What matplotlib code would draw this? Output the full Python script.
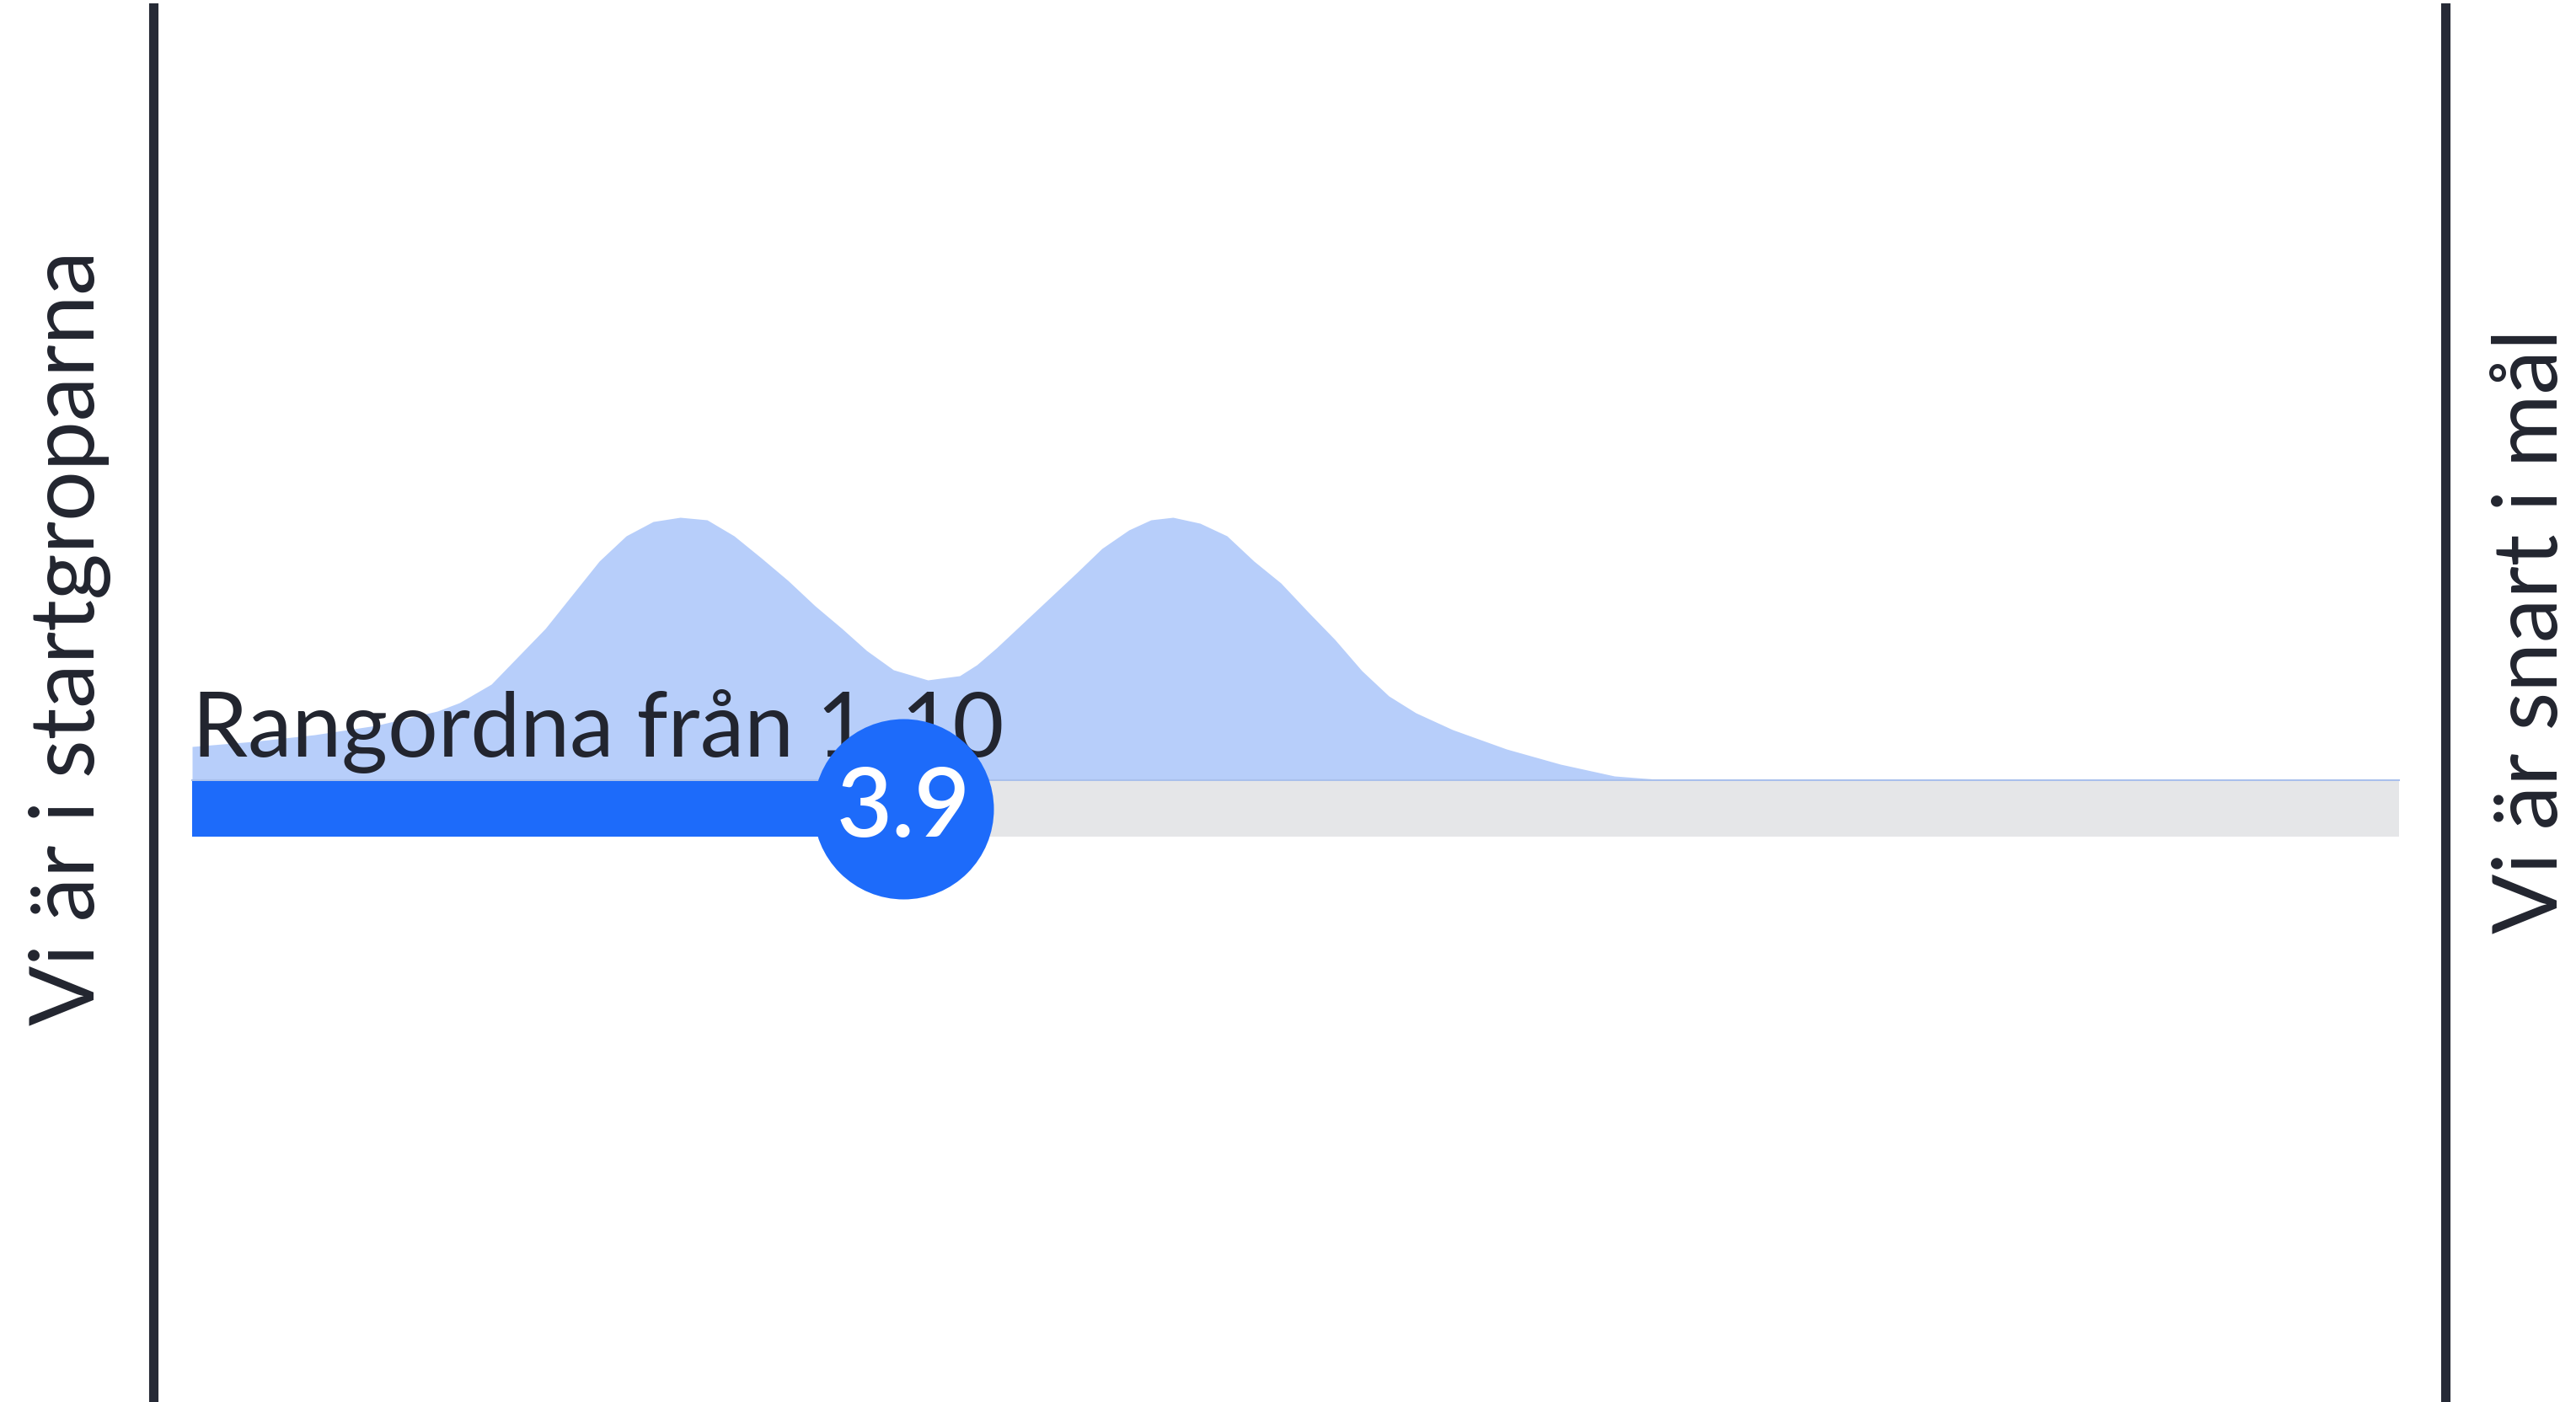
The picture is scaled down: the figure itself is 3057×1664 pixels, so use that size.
import matplotlib
matplotlib.use('Agg')
import matplotlib.pyplot as plt
from matplotlib.lines import Line2D

# rating scale and result
scale_min, scale_max = 1, 10
score = 3.9
score_label = '3.9'

# distribution of answers (density)
dens_x = [1.0, 1.25, 1.5, 1.75, 2.0, 2.09, 2.22, 2.33, 2.44, 2.55, 2.66, 2.77,
          2.88, 2.99, 3.10, 3.21, 3.32, 3.43, 3.54, 3.65, 3.75, 3.86, 4.0,
          4.13, 4.20, 4.28, 4.39, 4.50, 4.61, 4.71, 4.82, 4.91, 5.0, 5.11,
          5.22, 5.33, 5.44, 5.55, 5.66, 5.77, 5.88, 5.99, 6.14, 6.36, 6.58,
          6.80, 7.02, 7.2, 10.0]
dens_y = [0.041, 0.047, 0.055, 0.066, 0.083, 0.093, 0.115, 0.148, 0.181, 0.221,
          0.261, 0.291, 0.308, 0.313, 0.310, 0.291, 0.265, 0.238, 0.208, 0.181,
          0.155, 0.132, 0.120, 0.125, 0.138, 0.158, 0.188, 0.218, 0.248, 0.276,
          0.298, 0.310, 0.313, 0.306, 0.291, 0.261, 0.235, 0.201, 0.168, 0.131,
          0.101, 0.081, 0.061, 0.038, 0.020, 0.006, 0.001, 0.0, 0.0]

title = 'Rangordna från 1-10'
left_label = 'Vi är i startgroparna'
right_label = 'Vi är snart i mål'

BLUE = '#1d6bfa'
LIGHT = '#b7cefa'
GREY = '#e5e6e8'
INK = '#22252f'

W, H, DPI = 3057, 1665, 100
fig = plt.figure(figsize=(W / DPI, H / DPI), dpi=DPI)
fig.patch.set_facecolor('white')

# axes over the whole figure; x=1..10 spans the bar (px 228..2847), y=0 at px 928
px_per_x = (2847 - 228) / (scale_max - scale_min)
ax = fig.add_axes([0, 0, 1, 1])
ax.set_xlim(scale_min - 228 / px_per_x, scale_max + (W - 2847) / px_per_x)
ax.set_ylim(-(H - 928) / 1000, 928 / 1000)
ax.axis('off')

bar_h = 0.066
ax.fill_between(dens_x, dens_y, 0, color=LIGHT, linewidth=0, zorder=1)
ax.plot([scale_min, scale_max], [0.001, 0.001], color='#a9c0ec', lw=1.5, zorder=1.5)
ax.barh(-bar_h / 2, scale_max - scale_min, left=scale_min, height=bar_h,
        color=GREY, linewidth=0, zorder=2)
ax.barh(-bar_h / 2, score - scale_min, left=scale_min, height=bar_h,
        color=BLUE, linewidth=0, zorder=3)

ax.text(scale_min, 0.030, title, fontsize=76, family='Lato', color=INK,
        ha='left', va='baseline', zorder=4)

# knob: 214 px diameter
d_pt = 214 * 72 / DPI
ax.scatter([score], [-bar_h / 2], s=d_pt ** 2, color=BLUE, linewidths=0, zorder=5)
ax.text(score, -bar_h / 2, score_label, fontsize=82, family='Lato',
        fontweight='semibold', color='white', ha='center', va='center', zorder=6)

# end markers
for xp in (182, 2902):
    fig.add_artist(Line2D([xp / W, xp / W], [0, 1 - 10 / H], color='#262a36', lw=8))

fig.text(112 / W, 1 - 757 / H, left_label, rotation=90, rotation_mode='anchor',
         ha='center', va='baseline', fontsize=76, family='Lato', color=INK)
fig.text(3035 / W, 1 - 749 / H, right_label, rotation=90, rotation_mode='anchor',
         ha='center', va='baseline', fontsize=76, family='Lato', color=INK)

fig.savefig('out.png', dpi=DPI, facecolor='white')
